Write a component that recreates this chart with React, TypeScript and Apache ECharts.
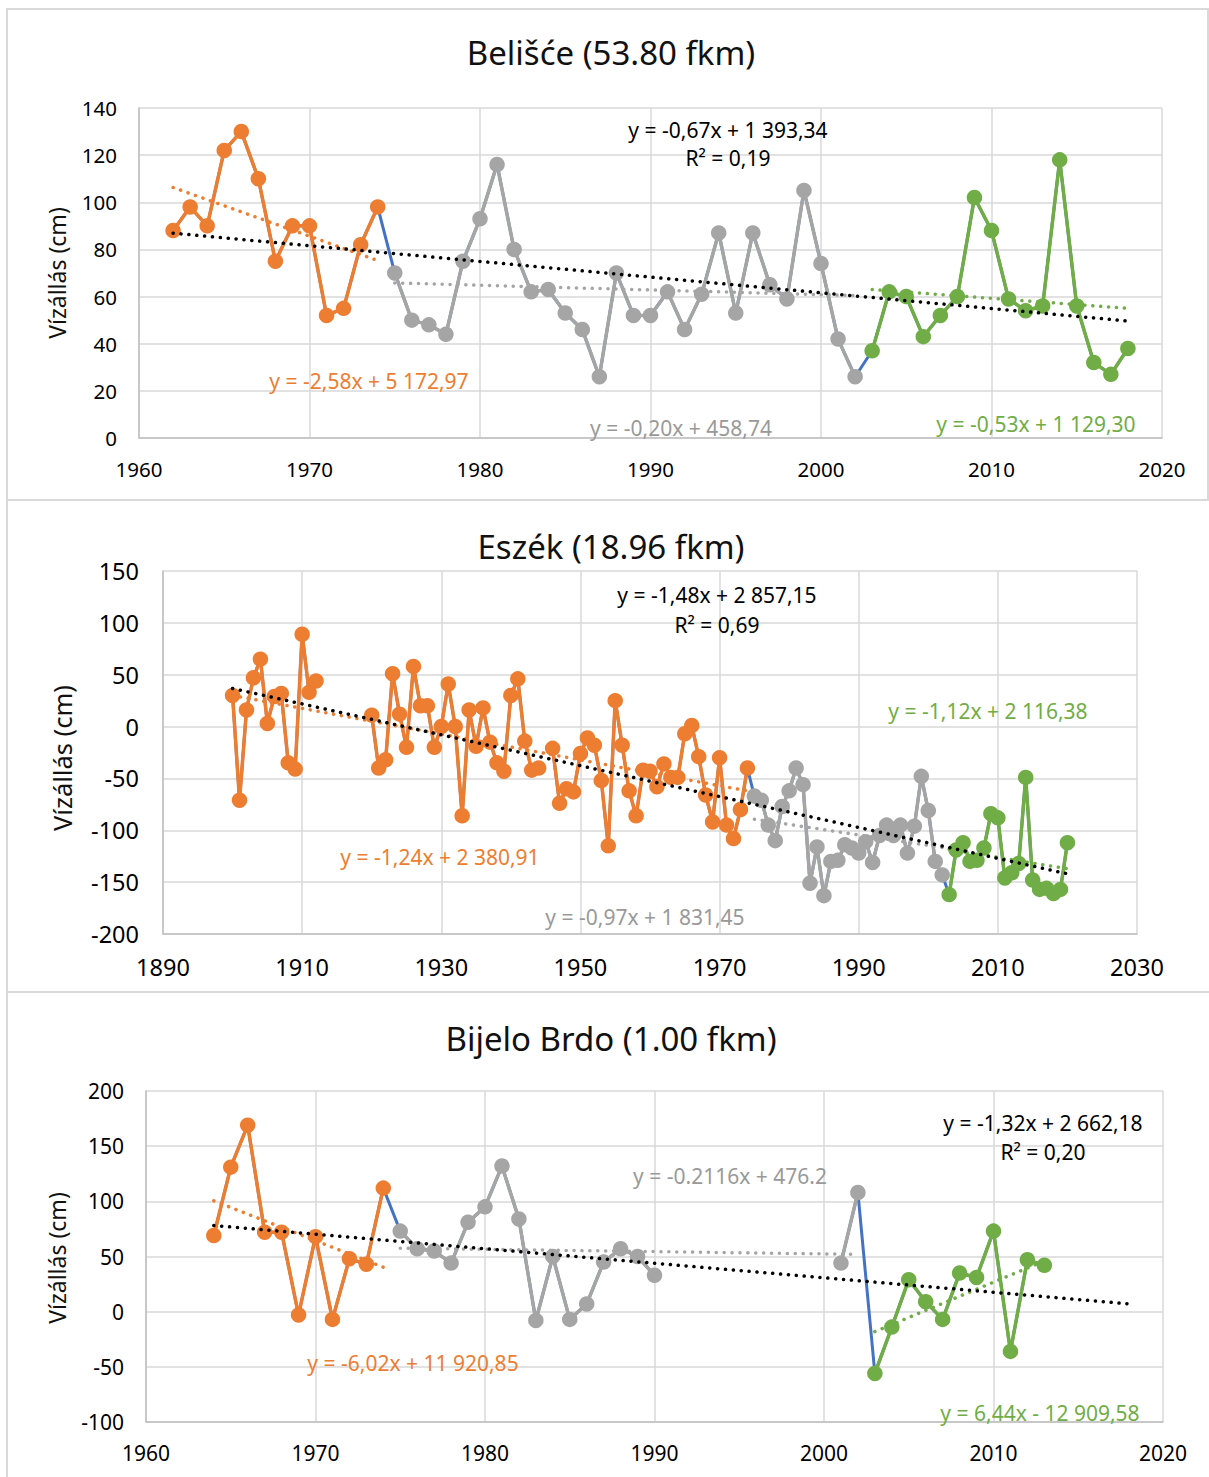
import React, { useEffect, useRef } from "react";
import * as echarts from "echarts";

const ORANGE = "#ED7D31";
const GREY = "#A5A5A5";
const GREEN = "#70AD47";
const BLUE = "#4472C4";
const GRID_COLOR = "#D9D9D9";
const FONT = "'Noto Sans', 'Open Sans', sans-serif";

// Period boundaries (last year of the orange and grey periods)
const ORANGE_LAST_YEAR = 1974;
const GREY_LAST_YEAR = 2002;

// ---- Chart 1: Belišće ----
const beliTitle = "Belišće (53.80 fkm)";
const beliStartYear = 1962;
const beliLevels = [
  88, 98, 90, 122, 130, 110, 75, 90, 90, 52, 55, 82, 98,
  70, 50, 48, 44, 75, 93, 116, 80, 62, 63, 53, 46, 26, 70, 52, 52, 62, 46, 61, 87, 53, 87, 65, 59, 105, 74, 42, 26,
  37, 62, 60, 43, 52, 60, 102, 88, 59, 54, 56, 118, 56, 32, 27, 38,
];
const beliEquations = [
  "y = -0,67x + 1 393,34",
  "R² = 0,19",
  "y = -2,58x + 5 172,97",
  "y = -0,20x + 458,74",
  "y = -0,53x + 1 129,30",
];

// ---- Chart 2: Eszék ----
const eszekTitle = "Eszék (18.96 fkm)";
const eszekStartYear = 1900;
const eszekLevels = [
  30, -71, 16, 47, 65, 3, 29, 32, -35, -41, 89, 33, 44,
  null, null, null, null, null, null, null,
  11, -40, -32, 51, 12, -20, 58, 20, 20, -20,
  0, 41, 0, -86, 16, -19, 18, -15, -35, -43,
  30, 46, -14, -42, -40, null, -21, -74, -60, -63,
  -26, -11, -18, -52, -115, 25, -18, -62, -86, -42,
  -43, -58, -36, -49, -49, -7, 1, -29, -66, -92,
  -30, -95, -108, -80, -40,
  -67, -71, -95, -110, -77,
  -62, -40, -56, -151, -116, -163, -130, -129, -114, -117,
  -122, -111, -131, -105, -95, -105, -95, -122, -96, -48,
  -81, -130, -143,
  -162, -119, -112, -130, -129, -117, -84,
  -88, -146, -141, -132, -49, -148, -157, -156, -161, -157, -112,
];
const eszekEquations = [
  "y = -1,48x + 2 857,15",
  "R² = 0,69",
  "y = -1,24x + 2 380,91",
  "y = -0,97x + 1 831,45",
  "y = -1,12x + 2 116,38",
];

// ---- Chart 3: Bijelo Brdo ----
const bijeloTitle = "Bijelo Brdo (1.00 fkm)";
const bijeloStartYear = 1964;
const bijeloLevels = [
  69, 131, 169, 72, 72, -3, 68, -7, 48, 43, 112,
  73, 57, 55, 44, 81, 95, 132, 84, -8, 50, -7, 7, 45, 57, 50, 33,
  null, null, null, null, null, null, null, null, null, null,
  44, 108,
  -56, -14, 29, 9, -7, 35, 31, 73, -36, 47, 42,
];
const bijeloEquations = [
  "y = -1,32x + 2 662,18",
  "R² = 0,20",
  "y = -6,02x + 11 920,85",
  "y = -0.2116x + 476.2",
  "y = 6,44x - 12 909,58",
];
const bijeloTrendForecastEnd = 2018;

const yAxisName = "Vízállás (cm)";

type Panel = {
  title: string;
  start: number;
  levels: (number | null)[];
  eq: string[];
  trendEnd?: number;
  grid: { left: number; top: number; width: number; height: number };
  x: [number, number, number];
  y: [number, number, number];
  tickFont: number;
  nameFont: number;
  xMargin: number;
  yMargin: number;
  titlePos: [number, number];
  namePos: [number, number];
  // positions of: black eq, R2, orange eq, grey eq, green eq
  eqPos: [number, number][];
  box: [number, number, number, number];
};

const panels: Panel[] = [
  {
    title: beliTitle,
    start: beliStartYear,
    levels: beliLevels,
    eq: beliEquations,
    grid: { left: 139, top: 108, width: 1023, height: 330 },
    x: [1960, 2020, 10],
    y: [0, 140, 20],
    tickFont: 20.5,
    nameFont: 23,
    xMargin: 20,
    yMargin: 22,
    titlePos: [611, 52],
    namePos: [57, 273],
    eqPos: [[728, 130], [728, 158], [369, 381], [681, 428], [1036, 424]],
    box: [7, 9, 1201, 491],
  },
  {
    title: eszekTitle,
    start: eszekStartYear,
    levels: eszekLevels,
    eq: eszekEquations,
    grid: { left: 163, top: 571, width: 974, height: 363 },
    x: [1890, 2030, 20],
    y: [-200, 150, 50],
    tickFont: 23.5,
    nameFont: 25.5,
    xMargin: 21,
    yMargin: 24,
    titlePos: [611, 546],
    namePos: [62, 758],
    eqPos: [[717, 595], [717, 625], [440, 857], [645, 917], [988, 711]],
    box: [7, 500, 1203, 492],
  },
  {
    title: bijeloTitle,
    start: bijeloStartYear,
    levels: bijeloLevels,
    eq: bijeloEquations,
    trendEnd: bijeloTrendForecastEnd,
    grid: { left: 146, top: 1091, width: 1017, height: 331 },
    x: [1960, 2020, 10],
    y: [-100, 200, 50],
    tickFont: 21,
    nameFont: 23,
    xMargin: 20,
    yMargin: 22,
    titlePos: [611, 1038],
    namePos: [57, 1258],
    eqPos: [[1043, 1123], [1043, 1152], [413, 1363], [730, 1176], [1040, 1413]],
    box: [7, 992, 1203, 486],
  },
];

function runsOf(pts: [number, number | null][]): [number, number][][] {
  const runs: [number, number][][] = [];
  let cur: [number, number][] = [];
  for (const [x, y] of pts) {
    if (y === null || y === undefined) {
      if (cur.length) runs.push(cur);
      cur = [];
    } else cur.push([x, y]);
  }
  if (cur.length) runs.push(cur);
  return runs;
}

function fit(pts: [number, number][]) {
  const n = pts.length;
  let mx = 0, my = 0;
  pts.forEach(([x, y]) => { mx += x; my += y; });
  mx /= n; my /= n;
  let sxy = 0, sxx = 0;
  pts.forEach(([x, y]) => { sxy += (x - mx) * (y - my); sxx += (x - mx) * (x - mx); });
  const b = sxy / sxx;
  const a = my - b * mx;
  return (x: number) => a + b * x;
}

function trendSeries(pts: [number, number][], color: string, gi: number, endX?: number) {
  const f = fit(pts);
  const x0 = pts[0][0];
  const x1 = endX ?? pts[pts.length - 1][0];
  return {
    type: "line",
    xAxisIndex: gi,
    yAxisIndex: gi,
    data: [[x0, f(x0)], [x1, f(x1)]],
    symbol: "none",
    silent: true,
    z: 5,
    lineStyle: { color, width: 3.5, type: [0.1, 7.8], cap: "round" },
  };
}

function buildOption() {
  const grid: any[] = [];
  const xAxis: any[] = [];
  const yAxis: any[] = [];
  const series: any[] = [];
  const graphic: any[] = [];

  panels.forEach((p, gi) => {
    graphic.push({
      type: "rect",
      shape: { x: p.box[0], y: p.box[1], width: p.box[2], height: p.box[3] },
      style: { fill: "none", stroke: GRID_COLOR, lineWidth: 2 },
      z: -1,
    });
    grid.push({ ...p.grid, containLabel: false });
    xAxis.push({
      type: "value",
      gridIndex: gi,
      min: p.x[0],
      max: p.x[1],
      interval: p.x[2],
      axisLine: { show: true, onZero: false, lineStyle: { color: "#BFBFBF", width: 1.5 } },
      axisTick: { show: false },
      axisLabel: {
        color: "#000",
        fontSize: p.tickFont,
        fontFamily: FONT,
        margin: p.xMargin,
        formatter: (v: number) => String(v),
      },
      splitLine: { show: true, lineStyle: { color: GRID_COLOR, width: 1.5 } },
    });
    yAxis.push({
      type: "value",
      gridIndex: gi,
      min: p.y[0],
      max: p.y[1],
      interval: p.y[2],
      axisLine: { show: true, onZero: false, lineStyle: { color: "#BFBFBF", width: 1.5 } },
      axisTick: { show: false },
      axisLabel: {
        color: "#000",
        fontSize: p.tickFont,
        fontFamily: FONT,
        margin: p.yMargin,
        formatter: (v: number) => String(v),
      },
      splitLine: { show: true, lineStyle: { color: GRID_COLOR, width: 1.5 } },
    });

    const all: [number, number | null][] = p.levels.map((v, i) => [p.start + i, v]);
    // blue: full record, visible only at period transitions
    runsOf(all).forEach((run) => {
      series.push({
        type: "line",
        xAxisIndex: gi,
        yAxisIndex: gi,
        data: run,
        symbol: "none",
        silent: true,
        z: 2,
        lineStyle: { color: BLUE, width: 3 },
      });
    });
    const segs: { color: string; pts: [number, number | null][] }[] = [
      { color: ORANGE, pts: all.filter(([x]) => x <= ORANGE_LAST_YEAR) },
      { color: GREY, pts: all.filter(([x]) => x > ORANGE_LAST_YEAR && x <= GREY_LAST_YEAR) },
      { color: GREEN, pts: all.filter(([x]) => x > GREY_LAST_YEAR) },
    ];
    segs.forEach((s) => {
      runsOf(s.pts).forEach((run) => {
        series.push({
          type: "line",
          xAxisIndex: gi,
          yAxisIndex: gi,
          data: run,
          symbol: "circle",
          symbolSize: 15.5,
          silent: true,
          z: 3,
          itemStyle: { color: s.color },
          lineStyle: { color: s.color, width: 3.5 },
        });
      });
    });
    segs.forEach((s) => {
      const pts = s.pts.filter(([, y]) => y !== null) as [number, number][];
      series.push(trendSeries(pts, s.color, gi));
    });
    const allPts = all.filter(([, y]) => y !== null) as [number, number][];
    series.push(trendSeries(allPts, "#000", gi, p.trendEnd));

    const textEl = (text: string, x: number, y: number, size: number, color: string, rot = 0) => ({
      type: "text",
      x,
      y,
      rotation: rot,
      z: 10,
      style: {
        text,
        fill: color,
        fontSize: size,
        fontFamily: FONT,
        align: "center",
        verticalAlign: "middle",
        textAlign: "center",
        textVerticalAlign: "middle",
      },
    });
    graphic.push(textEl(p.title, p.titlePos[0], p.titlePos[1], 33, "#111"));
    graphic.push(textEl(yAxisName, p.namePos[0], p.namePos[1], p.nameFont, "#111", Math.PI / 2));
    const eqColors = ["#000", "#000", ORANGE, "#999999", GREEN];
    p.eq.forEach((t, k) => {
      graphic.push(textEl(t, p.eqPos[k][0], p.eqPos[k][1], 21, eqColors[k]));
    });
  });

  return {
    animation: false,
    backgroundColor: "#fff",
    grid,
    xAxis,
    yAxis,
    series,
    graphic,
  };
}

export default function App() {
  const ref = useRef<HTMLDivElement>(null);
  useEffect(() => {
    if (!ref.current) return;
    const chart = echarts.init(ref.current, undefined, { renderer: "svg" });
    chart.setOption(buildOption() as any);
    return () => chart.dispose();
  }, []);
  return (
    <div
      ref={ref}
      style={{ position: "absolute", left: 0, top: 0, width: 1209, height: 1477, background: "#fff" }}
    />
  );
}
